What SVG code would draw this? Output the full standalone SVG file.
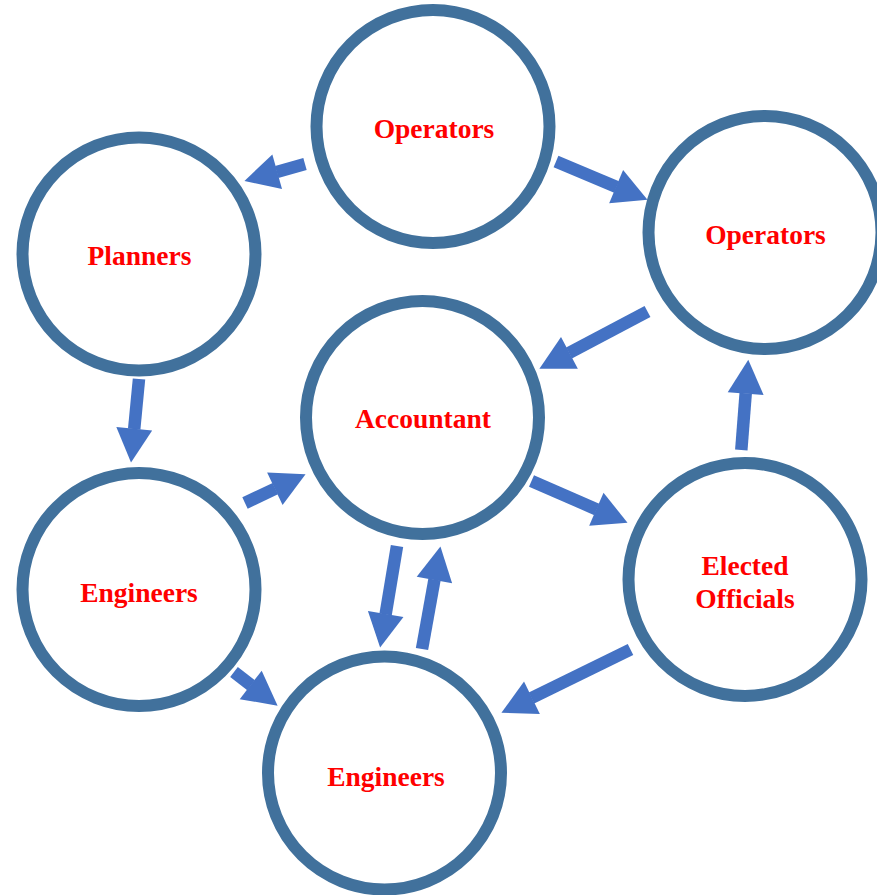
<svg xmlns="http://www.w3.org/2000/svg" width="877" height="895" viewBox="0 0 877 895">
<style>
.node circle{fill:#FFFFFF;stroke:#41719C;stroke-width:12}
.node text{font-family:"Liberation Serif","Times New Roman",serif;font-weight:bold;font-size:27.5px;fill:#FF0000;text-anchor:middle}
.conn line{stroke:#4472C4;stroke-width:12.5;stroke-linecap:butt;marker-end:url(#head)}
</style>
<defs>
<marker id="head" markerUnits="userSpaceOnUse" markerWidth="35" markerHeight="36" refX="0.5" refY="18" orient="auto" overflow="visible">
<path d="M0,0 L34,18 L0,36 Z" fill="#4472C4"/>
</marker>
</defs>
<rect width="877" height="895" fill="#FFFFFF"/>
<g id="connectors" class="conn">
<line x1="305" y1="164" x2="276.7" y2="171.9"/>
<line x1="556" y1="161.5" x2="616.6" y2="186.9"/>
<line x1="139" y1="379" x2="134.2" y2="429.2"/>
<line x1="647.5" y1="311.5" x2="569" y2="353.1"/>
<line x1="245" y1="503" x2="275.3" y2="488.6"/>
<line x1="531.5" y1="481" x2="596.8" y2="509.4"/>
<line x1="741.3" y1="450" x2="745.7" y2="393.2"/>
<line x1="397" y1="546" x2="385.6" y2="614.5"/>
<line x1="422" y1="649" x2="434.5" y2="579.5"/>
<line x1="234" y1="672" x2="251.1" y2="685.2"/>
<line x1="630.5" y1="649.5" x2="531.5" y2="698"/>
</g>
<g id="node-operators-top" class="node">
<circle cx="433" cy="126.5" r="116.5"/>
<text x="434" y="138">Operators</text>
</g>
<g id="node-planners" class="node">
<circle cx="139" cy="254" r="116.5"/>
<text x="139.5" y="265">Planners</text>
</g>
<g id="node-operators-right" class="node">
<circle cx="765" cy="232.5" r="116.5"/>
<text x="765.5" y="244">Operators</text>
</g>
<g id="node-accountant" class="node">
<circle cx="422.5" cy="417.5" r="116.5"/>
<text x="423" y="428">Accountant</text>
</g>
<g id="node-engineers-left" class="node">
<circle cx="139" cy="589.5" r="116.5"/>
<text x="139" y="602">Engineers</text>
</g>
<g id="node-elected-officials" class="node">
<circle cx="745" cy="579.5" r="116.5"/>
<text x="745" y="575">Elected</text>
<text x="745" y="608">Officials</text>
</g>
<g id="node-engineers-bottom" class="node">
<circle cx="384.5" cy="773" r="116.5"/>
<text x="386" y="786">Engineers</text>
</g>
</svg>
